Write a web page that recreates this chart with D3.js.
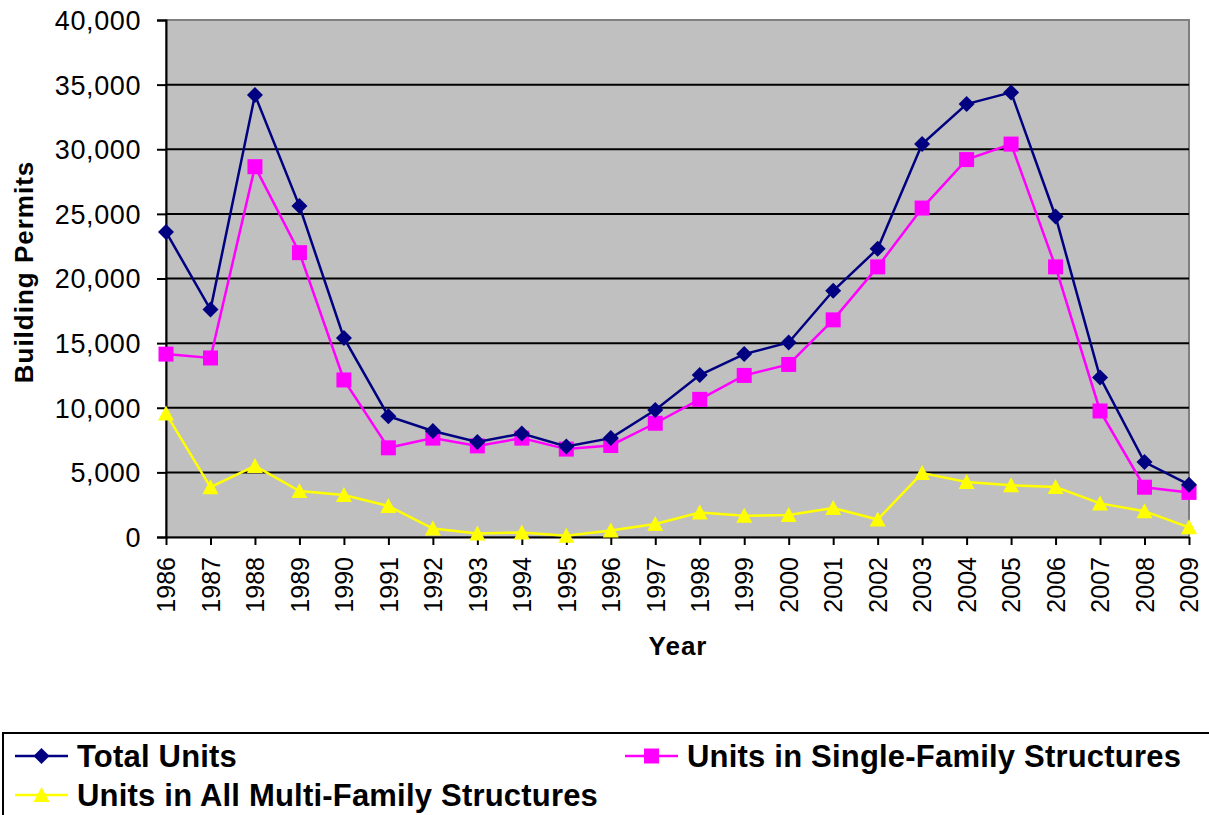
<!DOCTYPE html>
<html>
<head>
<meta charset="utf-8">
<script src="https://cdn.jsdelivr.net/npm/d3@7"></script>
<style>
  body { margin: 0; background: #fff; }
  svg { display: block; font-family: "Liberation Sans", Arial, sans-serif; }
</style>
</head>
<body>
<script>
// Baugenehmigungen pro Jahr
const years = [1986, 1987, 1988, 1989, 1990, 1991, 1992, 1993, 1994, 1995, 1996, 1997,
  1998, 1999, 2000, 2001, 2002, 2003, 2004, 2005, 2006, 2007, 2008, 2009];

const totalUnits = [23600, 17600, 34200, 25600, 15400, 9350, 8200, 7350, 8000, 7000, 7650, 9830,
  12530, 14150, 15050, 19050, 22300, 30400, 33500, 34400, 24800, 12350, 5800, 4050];

const singleFamily = [14150, 13850, 28650, 22000, 12150, 6900, 7650, 7050, 7650, 6800, 7080, 8800,
  10650, 12500, 13350, 16800, 20900, 25450, 29200, 30400, 20900, 9750, 3850, 3450];

const multiFamily = [9550, 3850, 5500, 3550, 3250, 2400, 650, 280, 350, 100, 500, 1000,
  1900, 1650, 1700, 2250, 1350, 4950, 4250, 4000, 3870, 2600, 2000, 750];

const yTicks = [0, 5000, 10000, 15000, 20000, 25000, 30000, 35000, 40000];

const width = 1209;
const height = 815;
const plotLeft = 166, plotRight = 1189, plotTop = 20, plotBottom = 537;

const svg = d3.select("body").append("svg")
  .attr("width", width)
  .attr("height", height);

const x = d3.scalePoint().domain(years).range([plotLeft, plotRight]);
const y = d3.scaleLinear().domain([0, 40000]).range([plotBottom, plotTop]);

// Plotfläche
svg.append("rect")
  .attr("x", plotLeft).attr("y", plotTop)
  .attr("width", plotRight - plotLeft).attr("height", plotBottom - plotTop)
  .attr("fill", "#c0c0c0")
  .attr("stroke", "#808080")
  .attr("stroke-width", 2);

// Gitterlinien
svg.selectAll(".grid")
  .data(yTicks.filter(d => d > 0 && d < 40000))
  .enter().append("line")
  .attr("x1", plotLeft).attr("x2", plotRight)
  .attr("y1", d => y(d)).attr("y2", d => y(d))
  .attr("stroke", "#000").attr("stroke-width", 2);

// Achsen
const yAxis = svg.append("g")
  .attr("transform", `translate(${plotLeft},0)`)
  .call(d3.axisLeft(y).tickValues(yTicks).tickSize(9).tickPadding(16).tickFormat(d3.format(",")));

const xAxis = svg.append("g")
  .attr("transform", `translate(0,${plotBottom})`)
  .call(d3.axisBottom(x).tickSize(8).tickSizeOuter(0));

[yAxis, xAxis].forEach(g => {
  g.select(".domain").attr("stroke", "#000").attr("stroke-width", 2);
  g.selectAll(".tick line").attr("stroke", "#000").attr("stroke-width", 2);
  g.selectAll("text")
    .attr("fill", "#000")
    .style("font-family", "'Liberation Sans', Arial, sans-serif")
    .style("font-size", "25px");
});

yAxis.selectAll("text")
  .style("font-size", "27px")
  .style("letter-spacing", "0.6px")
  .attr("dy", "0.35em");

xAxis.selectAll("text")
  .attr("transform", "rotate(-90)")
  .attr("text-anchor", "end")
  .attr("x", -20)
  .attr("y", 0)
  .attr("dy", "0.35em");

// Achsentitel
svg.append("text")
  .attr("transform", "translate(33,272) rotate(-90)")
  .attr("text-anchor", "middle")
  .style("font-size", "26px")
  .style("font-weight", "bold")
  .style("letter-spacing", "1px")
  .text("Building Permits");

svg.append("text")
  .attr("x", 678).attr("y", 655)
  .attr("text-anchor", "middle")
  .style("font-size", "26px")
  .style("font-weight", "bold")
  .style("letter-spacing", "1px")
  .text("Year");

// Serien
const series = [
  { name: "Total Units", values: totalUnits, color: "#000080", marker: "diamond" },
  { name: "Units in Single-Family Structures", values: singleFamily, color: "#ff00ff", marker: "square" },
  { name: "Units in All Multi-Family Structures", values: multiFamily, color: "#ffff00", marker: "triangle" }
];

function markerPath(type) {
  if (type === "diamond") return "M0,-8L8,0L0,8L-8,0Z";
  if (type === "square") return "M-7.5,-7.5H7.5V7.5H-7.5Z";
  return "M0,-8L8,7L-8,7Z";
}

const line = d3.line()
  .x((d, i) => x(years[i]))
  .y(d => y(d));

// Reihenfolge wie im Original: gelb unten, dann magenta, dann blau
[series[2], series[1], series[0]].forEach(s => {
  const g = svg.append("g");
  g.append("path")
    .attr("d", line(s.values))
    .attr("fill", "none")
    .attr("stroke", s.color)
    .attr("stroke-width", 2.5);
  g.selectAll("path.m")
    .data(s.values)
    .enter().append("path")
    .attr("class", "m")
    .attr("d", markerPath(s.marker))
    .attr("transform", (d, i) => `translate(${x(years[i])},${y(d)})`)
    .attr("fill", s.color);
});

// Legende
svg.append("rect")
  .attr("x", 3).attr("y", 733)
  .attr("width", 1220).attr("height", 100)
  .attr("fill", "#fff")
  .attr("stroke", "#000")
  .attr("stroke-width", 2);

const legendPos = [
  { x: 15, y: 756 },
  { x: 625, y: 756 },
  { x: 15, y: 795 }
];

series.forEach((s, i) => {
  const p = legendPos[i];
  const g = svg.append("g").attr("transform", `translate(${p.x},${p.y})`);
  g.append("line")
    .attr("x1", 0).attr("x2", 53)
    .attr("stroke", s.color).attr("stroke-width", 2.5);
  g.append("path")
    .attr("d", markerPath(s.marker))
    .attr("transform", "translate(26.5,0)")
    .attr("fill", s.color);
  g.append("text")
    .attr("x", 62)
    .attr("y", 11)
    .style("font-size", "31px")
    .style("font-weight", "bold")
    .style("letter-spacing", "0.2px")
    .text(s.name);
});
</script>
</body>
</html>
